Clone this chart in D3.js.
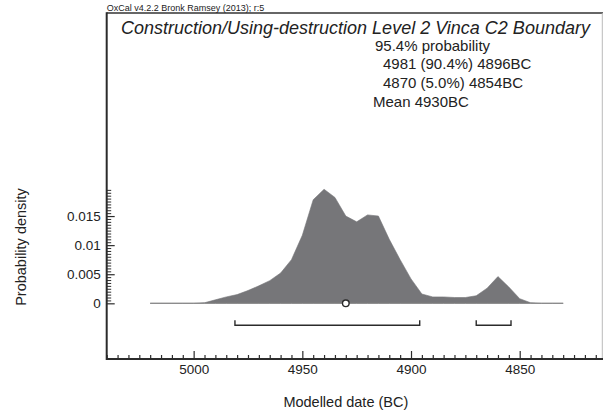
<!DOCTYPE html>
<html>
<head>
<meta charset="utf-8">
<script src="https://cdn.jsdelivr.net/npm/d3@7"></script>
<style>
  body { margin: 0; background: #fff; }
  svg { display: block; }
  text { font-family: "Liberation Sans", Arial, sans-serif; fill: #222; }
</style>
</head>
<body>
<svg id="chart" width="603" height="416"></svg>
<script>
// ---- data ----
const years = [5020, 5015, 5010, 5005, 5000, 4995, 4990, 4985, 4980, 4975, 4970, 4965, 4960, 4955, 4950, 4945, 4940, 4935, 4930, 4925, 4920, 4915, 4910, 4905, 4900, 4895, 4890, 4885, 4880, 4875, 4870, 4865, 4860, 4855, 4850, 4845, 4840, 4835, 4830];
const density = [0, 0, 0, 0, 0, 0.0001, 0.0006, 0.0011, 0.0015, 0.0022, 0.0030, 0.0039, 0.0052, 0.0075, 0.0117, 0.0178, 0.0196, 0.0182, 0.0150, 0.0140, 0.0152, 0.0150, 0.0110, 0.0075, 0.0042, 0.0016, 0.0011, 0.0011, 0.0010, 0.0010, 0.0013, 0.0026, 0.0046, 0.0028, 0.0008, 0.0001, 0, 0, 0];
const rangeFrom = [4981, 4870];
const rangeTo = [4896, 4854];
const meanYear = 4930;
const xTicks = [5000, 4950, 4900, 4850];
const yTicks = [0, 0.005, 0.01, 0.015];
const yTickLabels = ["0", "0.005", "0.01", "0.015"];
const infoLines = ["95.4% probability", "4981 (90.4%) 4896BC", "4870 (5.0%) 4854BC", "Mean 4930BC"];
const titleText = "Construction/Using-destruction Level 2 Vinca C2 Boundary";
const headerText = "OxCal v4.2.2 Bronk Ramsey (2013); r:5";
const xLabel = "Modelled date (BC)";
const yLabel = "Probability density";

// ---- layout ----
const svg = d3.select("#chart");
const L = 106.7, R = 602.3, T = 13, B = 359;
const x = d3.scaleLinear().domain([5040, 4812]).range([L, R]);
const y = d3.scaleLinear().domain([-0.00957, 0.0499]).range([B, T]);
const dark = "#2b2b2b";

// density area
const pts = years.map((yr, i) => ({yr, d: density[i]}));
svg.append("path")
  .datum(pts)
  .attr("fill", "#767679")
  .attr("stroke", "#767679")
  .attr("stroke-width", 0.6)
  .attr("d", d3.area().x(p => x(p.yr)).y0(y(0)).y1(p => y(p.d)));
svg.append("path")
  .datum(pts)
  .attr("fill", "none")
  .attr("stroke", "#8a8a8a")
  .attr("stroke-width", 1)
  .attr("d", d3.line().x(p => x(p.yr)).y(y(0)));

// ranges brackets
const by = y(0) + 22;
rangeFrom.forEach((a, i) => {
  const b = rangeTo[i];
  svg.append("path")
    .attr("fill", "none")
    .attr("stroke", dark)
    .attr("stroke-width", 1.4)
    .attr("d", `M${x(a)},${by - 5}V${by}H${x(b)}V${by - 5}`);
});

// mean marker
svg.append("circle")
  .attr("cx", x(meanYear)).attr("cy", y(0)).attr("r", 3.3)
  .attr("fill", "#fff").attr("stroke", dark).attr("stroke-width", 1.4);

// frame
svg.append("line").attr("x1", L).attr("x2", 603).attr("y1", T).attr("y2", T)
  .attr("stroke", "#333").attr("stroke-width", 1.5);
svg.append("line").attr("x1", R).attr("x2", R).attr("y1", T).attr("y2", B)
  .attr("stroke", "#bbb").attr("stroke-width", 1);

// x axis
const minorX = d3.range(5040, 4809, -5).filter(v => !xTicks.includes(v));
const gxMinor = svg.append("g").attr("transform", `translate(0,${B})`)
  .call(d3.axisBottom(x).tickValues(minorX).tickSize(-4).tickFormat(""));
gxMinor.select(".domain").remove();
const gx = svg.append("g").attr("transform", `translate(0,${B})`)
  .call(d3.axisBottom(x).tickValues(xTicks).tickSize(-8).tickPadding(5).tickFormat(d3.format("d")));
gx.select(".domain").remove();
svg.selectAll("g .tick line").attr("stroke", dark).attr("stroke-width", 1.2);
gx.selectAll("text").style("font-size", "13.5px").attr("fill", "#222");
svg.append("line").attr("x1", L).attr("x2", 603).attr("y1", B).attr("y2", B)
  .attr("stroke", dark).attr("stroke-width", 2);

// y axis
const minorY = d3.range(0, 0.01951, 0.0005).filter(v => !yTicks.some(t => Math.abs(t - v) < 1e-9));
const gyMinor = svg.append("g").attr("transform", `translate(${L},0)`)
  .call(d3.axisLeft(y).tickValues(minorY).tickSize(-4.5).tickFormat(""));
gyMinor.select(".domain").remove();
gyMinor.selectAll(".tick line").attr("stroke", dark).attr("stroke-width", 1);
const gy = svg.append("g").attr("transform", `translate(${L},0)`)
  .call(d3.axisLeft(y).tickValues(yTicks).tickSize(-8).tickPadding(6)
    .tickFormat((d, i) => yTickLabels[i]));
gy.select(".domain").remove();
gy.selectAll(".tick line").attr("stroke", dark).attr("stroke-width", 1.2);
gy.selectAll("text").style("font-size", "13.5px").attr("fill", "#222");
svg.append("line").attr("x1", L).attr("x2", L).attr("y1", T - 0.75).attr("y2", B + 1)
  .attr("stroke", dark).attr("stroke-width", 2);

// texts
svg.append("text").attr("x", L).attr("y", 11)
  .style("font-size", "9px").text(headerText);
svg.append("text").attr("x", 121).attr("y", 34)
  .style("font-size", "18px").style("font-style", "italic").text(titleText);
const infoX = [375, 383, 383, 373];
const infoY = [50.5, 69, 88, 106.5];
infoLines.forEach((t, i) => {
  svg.append("text").attr("x", infoX[i]).attr("y", infoY[i])
    .style("font-size", "15px").text(t);
});
svg.append("text").attr("x", (L + 585) / 2).attr("y", 407)
  .attr("text-anchor", "middle").style("font-size", "14.5px").text(xLabel);
svg.append("text").attr("transform", "translate(25.5,247) rotate(-90)")
  .attr("text-anchor", "middle").style("font-size", "14.5px").text(yLabel);
</script>
</body>
</html>
